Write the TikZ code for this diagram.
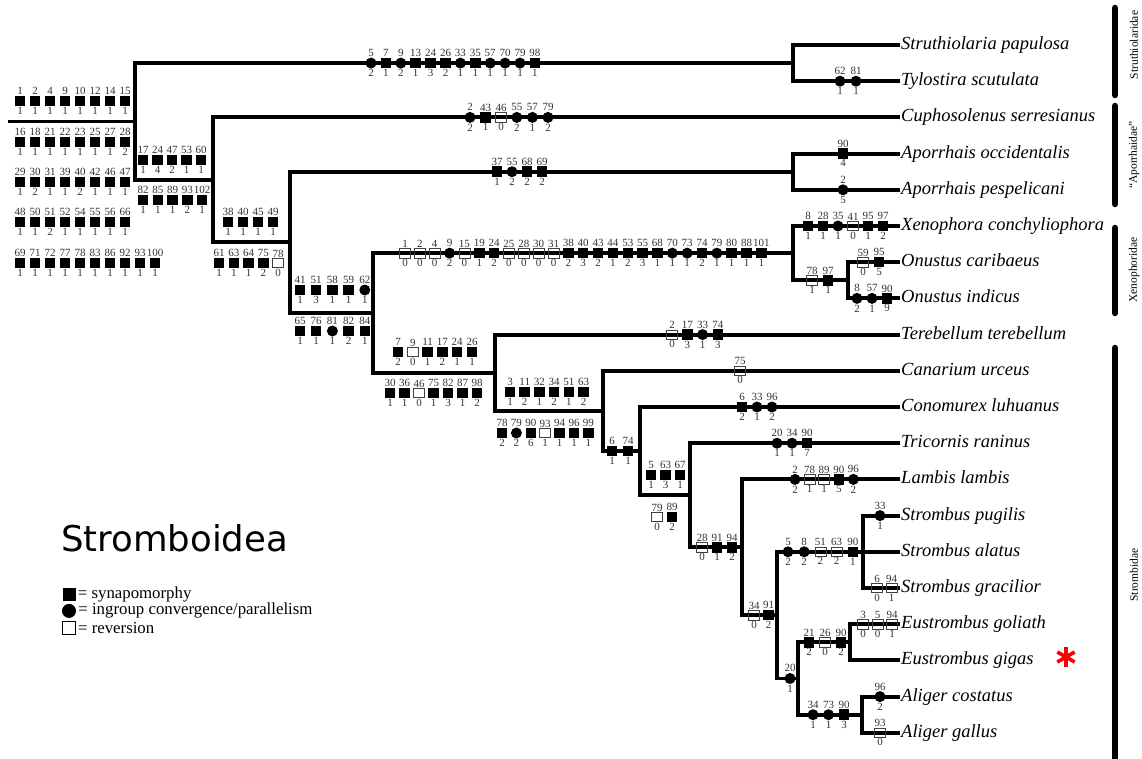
\documentclass[tikz,border=0pt]{standalone}
\usepackage{fontspec}
\setmainfont{Liberation Serif}
\newfontfamily\titleFont{DejaVu Sans}
\usetikzlibrary{positioning}
\newcommand{\branchWidth}[0]{3.9pt}
\newcommand{\tipX}[0]{900}
\newcommand{\charRow}[5]{%
  \foreach \kind/\num/\st [count=\k from 0] in {#5}{%
    \node[\kind, label={[charLbl]above:\num}, label={[charLbl]below:\st}]
      (#1-\k) at ({#2+#4*\k},#3) {};
  }%
}

\begin{document}
\begin{tikzpicture}[x=1pt, y=-1pt]
  \tikzset{
    branch/.style={line width=\branchWidth, line join=miter},
    syn/.style={rectangle, fill=black, minimum size=10.5pt, inner sep=0pt, label distance=2pt},
    conv/.style={circle, fill=black, minimum size=11pt, inner sep=0pt, label distance=2pt},
    rev/.style={rectangle, draw=black!75, line width=0.7pt, minimum width=11pt, minimum height=9.5pt, inner sep=0pt, label distance=2pt},
    charLbl/.style={font=\fontsize{11}{11}\selectfont, text=black!80, inner sep=0.5pt},
    taxon/.style={anchor=west, inner sep=1pt, text height=13pt, text depth=4pt, font=\fontsize{18.5}{20}\selectfont\itshape},
    cladeBar/.style={line width=6.5pt, line cap=round},
    cladeName/.style={rotate=90, inner sep=0pt, font=\fontsize{11.5}{12}\selectfont},
    legendTxt/.style={anchor=west, inner sep=0pt, font=\fontsize{16.8}{17}\selectfont}
  }
  \useasboundingbox (0,0) rectangle (1142,759);

  % internal nodes
  \coordinate (base) at (10,121.5);
  \coordinate (root) at (135,121.5);
  \coordinate (nStr) at (793,63.1);
  \coordinate (nC2) at (213,179.9);
  \coordinate (nA2) at (290,242.3);
  \coordinate (nApo) at (793,171.7);
  \coordinate (nX2) at (373,313);
  \coordinate (nXen) at (793,253.15);
  \coordinate (nOnu) at (848,280.3);
  \coordinate (nTer) at (495,372.8);
  \coordinate (nCan) at (603,411);
  \coordinate (nCon) at (640,451.1);
  \coordinate (nTri) at (690,495.3);
  \coordinate (nLam) at (742,547.3);
  \coordinate (nSE) at (777,615.2);
  \coordinate (nStb) at (863,551.8);
  \coordinate (nEA) at (798,678.5);
  \coordinate (nEus) at (850,642.3);
  \coordinate (nAli) at (862,714.7);

  % taxa
  \node[taxon] (papulosa) at (\tipX,45) {Struthiolaria papulosa};
  \node[taxon] (scutulata) at (\tipX,81.2) {Tylostira scutulata};
  \node[taxon] (serresianus) at (\tipX,117.4) {Cuphosolenus serresianus};
  \node[taxon] (occidentalis) at (\tipX,153.6) {Aporrhais occidentalis};
  \node[taxon] (pespelicani) at (\tipX,189.8) {Aporrhais pespelicani};
  \node[taxon] (conchyliophora) at (\tipX,226) {Xenophora conchyliophora};
  \node[taxon] (caribaeus) at (\tipX,262.2) {Onustus caribaeus};
  \node[taxon] (indicus) at (\tipX,298.4) {Onustus indicus};
  \node[taxon] (terebellum) at (\tipX,334.6) {Terebellum terebellum};
  \node[taxon] (urceus) at (\tipX,370.8) {Canarium urceus};
  \node[taxon] (luhuanus) at (\tipX,407) {Conomurex luhuanus};
  \node[taxon] (raninus) at (\tipX,443.2) {Tricornis raninus};
  \node[taxon] (lambis) at (\tipX,479.4) {Lambis lambis};
  \node[taxon] (pugilis) at (\tipX,515.6) {Strombus pugilis};
  \node[taxon] (alatus) at (\tipX,551.8) {Strombus alatus};
  \node[taxon] (gracilior) at (\tipX,588) {Strombus gracilior};
  \node[taxon] (goliath) at (\tipX,624.2) {Eustrombus goliath};
  \node[taxon] (gigas) at (\tipX,660.4) {Eustrombus gigas};
  \node[taxon] (costatus) at (\tipX,696.6) {Aliger costatus};
  \node[taxon] (gallus) at (\tipX,732.8) {Aliger gallus};

  % branches
  \draw[branch, line cap=rect] (base) -- (root);
  \draw[branch] (root) |- (nStr);
  \draw[branch] (root) |- (nC2);
  \draw[branch] (nStr) |- (papulosa.west);
  \draw[branch] (nStr) |- (scutulata.west);
  \draw[branch] (nC2) |- (serresianus.west);
  \draw[branch] (nC2) |- (nA2);
  \draw[branch] (nA2) |- (nApo);
  \draw[branch] (nA2) |- (nX2);
  \draw[branch] (nApo) |- (occidentalis.west);
  \draw[branch] (nApo) |- (pespelicani.west);
  \draw[branch] (nX2) |- (nXen);
  \draw[branch] (nX2) |- (nTer);
  \draw[branch] (nXen) |- (conchyliophora.west);
  \draw[branch] (nXen) |- (nOnu);
  \draw[branch] (nOnu) |- (caribaeus.west);
  \draw[branch] (nOnu) |- (indicus.west);
  \draw[branch] (nTer) |- (terebellum.west);
  \draw[branch] (nTer) |- (nCan);
  \draw[branch] (nCan) |- (urceus.west);
  \draw[branch] (nCan) |- (nCon);
  \draw[branch] (nCon) |- (luhuanus.west);
  \draw[branch] (nCon) |- (nTri);
  \draw[branch] (nTri) |- (raninus.west);
  \draw[branch] (nTri) |- (nLam);
  \draw[branch] (nLam) |- (lambis.west);
  \draw[branch] (nLam) |- (nSE);
  \draw[branch] (nSE) |- (nStb);
  \draw[branch] (nSE) |- (nEA);
  \draw[branch] (nStb) |- (pugilis.west);
  \draw[branch] (nStb) -- (alatus.west);
  \draw[branch] (nStb) |- (gracilior.west);
  \draw[branch] (nEA) |- (nEus);
  \draw[branch] (nEA) |- (nAli);
  \draw[branch] (nEus) |- (goliath.west);
  \draw[branch] (nEus) |- (gigas.west);
  \draw[branch] (nAli) |- (costatus.west);
  \draw[branch] (nAli) |- (gallus.west);

  % characters
  \charRow{r1}{20}{101}{15}{syn/1/1,syn/2/1,syn/4/1,syn/9/1,syn/10/1,syn/12/1,syn/14/1,syn/15/1}
  \charRow{r2}{20}{142}{15}{syn/16/1,syn/18/1,syn/21/1,syn/22/1,syn/23/1,syn/25/1,syn/27/1,syn/28/2}
  \charRow{r3}{20}{182}{15}{syn/29/1,syn/30/2,syn/31/1,syn/39/1,syn/40/2,syn/42/1,syn/46/1,syn/47/1}
  \charRow{r4}{20}{222}{15}{syn/48/1,syn/50/1,syn/51/2,syn/52/1,syn/54/1,syn/55/1,syn/56/1,syn/66/1}
  \charRow{r5}{20}{263}{15}{syn/69/1,syn/71/1,syn/72/1,syn/77/1,syn/78/1,syn/83/1,syn/86/1,syn/92/1,syn/93/1,syn/100/1}
  \charRow{b2a}{143}{160}{14.5}{syn/17/1,syn/24/4,syn/47/2,syn/53/1,syn/60/1}
  \charRow{b2b}{143}{200}{14.8}{syn/82/1,syn/85/1,syn/89/1,syn/93/2,syn/102/1}
  \charRow{b3a}{228}{222}{15}{syn/38/1,syn/40/1,syn/45/1,syn/49/1}
  \charRow{b3b}{219}{263}{14.8}{syn/61/1,syn/63/1,syn/64/1,syn/75/2,rev/78/0}
  \charRow{b4a}{300}{290}{16.2}{syn/41/1,syn/51/3,syn/58/1,syn/59/1,conv/62/1}
  \charRow{b4b}{300}{331}{16.2}{syn/65/1,syn/76/1,conv/81/1,syn/82/2,syn/84/1}
  \charRow{b5a}{398}{352}{14.8}{syn/7/2,rev/9/0,syn/11/1,syn/17/2,syn/24/1,syn/26/1}
  \charRow{b5b}{390}{393}{14.5}{syn/30/1,syn/36/1,rev/46/0,syn/75/1,syn/82/3,syn/87/1,syn/98/2}
  \charRow{b6a}{510}{392}{14.7}{syn/3/1,syn/11/2,syn/32/1,syn/34/2,syn/51/1,syn/63/2}
  \charRow{b6b}{502}{433}{14.4}{syn/78/2,conv/79/2,syn/90/6,rev/93/1,syn/94/1,syn/96/1,syn/99/1}
  \charRow{b7}{612}{451.1}{16}{syn/6/1,syn/74/1}
  \charRow{b8a}{651}{475}{14.5}{syn/5/1,syn/63/3,syn/67/1}
  \charRow{b8b}{657}{517}{15}{rev/79/0,syn/89/2}
  \charRow{b9}{702}{547.3}{15}{rev/28/0,syn/91/1,syn/94/2}
  \charRow{b10}{754}{615.2}{14.5}{rev/34/0,syn/91/2}
  \charRow{b11}{790}{678.5}{15}{conv/20/1}
  \charRow{stb}{788}{551.8}{16.2}{conv/5/2,conv/8/2,rev/51/2,rev/63/2,syn/90/1}
  \charRow{eus}{809}{642.3}{16}{syn/21/2,rev/26/0,syn/90/2}
  \charRow{ali}{813}{714.7}{15.5}{conv/34/1,conv/73/1,syn/90/3}
  \charRow{str}{371}{63.1}{14.9}{conv/5/2,syn/7/1,conv/9/2,syn/13/1,syn/24/3,syn/26/2,conv/33/1,syn/35/1,conv/57/1,conv/70/1,conv/79/1,syn/98/1}
  \charRow{scu}{840}{81.2}{16}{conv/62/1,conv/81/1}
  \charRow{cup}{470}{117.4}{15.6}{conv/2/2,syn/43/1,rev/46/0,conv/55/2,conv/57/1,conv/79/2}
  \charRow{apo}{497}{171.7}{15}{syn/37/1,conv/55/2,syn/68/2,syn/69/2}
  \charRow{occ}{843}{153.6}{15}{syn/90/4}
  \charRow{pes}{843}{189.8}{15}{conv/2/5}
  \charRow{xen}{405}{253.15}{14.85}{rev/1/0,rev/2/0,rev/4/0,conv/9/2,rev/15/0,syn/19/1,syn/24/2,rev/25/0,rev/28/0,rev/30/0,rev/31/0,syn/38/2,syn/40/3,syn/43/2,syn/44/1,syn/53/2,syn/55/3,syn/68/1,conv/70/1,conv/73/1,syn/74/2,conv/79/1,syn/80/1,syn/88/1,syn/101/1}
  \charRow{con}{808}{226}{15}{syn/8/1,syn/28/1,conv/35/1,rev/41/0,syn/95/1,syn/97/2}
  \charRow{onu}{812}{280.3}{16}{rev/78/1,syn/97/1}
  \charRow{car}{863}{262.2}{16}{rev/59/0,syn/95/5}
  \charRow{ind}{857}{298.4}{15}{conv/8/2,conv/57/1,syn/90/9}
  \charRow{ter}{672}{334.6}{15.3}{rev/2/0,syn/17/3,conv/33/1,syn/74/3}
  \charRow{urc}{740}{370.8}{15}{rev/75/0}
  \charRow{luh}{742}{407}{15}{syn/6/2,conv/33/1,conv/96/2}
  \charRow{ran}{777}{443.2}{15}{conv/20/1,conv/34/1,syn/90/7}
  \charRow{lam}{795}{479.4}{14.6}{conv/2/2,rev/78/1,rev/89/1,syn/90/5,conv/96/2}
  \charRow{pug}{880}{515.6}{15}{conv/33/1}
  \charRow{gra}{877}{588}{14.5}{rev/6/0,rev/94/1}
  \charRow{gol}{863}{624.2}{14.5}{rev/3/0,rev/5/0,rev/94/1}
  \charRow{cos}{880}{696.6}{15}{conv/96/2}
  \charRow{gal}{880}{732.8}{15}{rev/93/0}

  % clades
  \draw[cladeBar] (1115,8) -- (1115,95);
  \node[cladeName] (struthiolaridae) at (1134,45) {Struthiolaridae};
  \draw[cladeBar] (1115,106) -- (1115,204);
  \node[cladeName] (aporrhaidae) at (1134,155) {“Aporrhaidae”};
  \draw[cladeBar] (1115,228) -- (1115,313);
  \node[cladeName] (xenophoridae) at (1134,270) {Xenophoridae};
  \draw[cladeBar] (1115,348) -- (1115,762);
  \node[cladeName] (strombidae) at (1134,575) {Strombidae};

  % star for E. gigas
  \coordinate (star) at (1066,657);
  \foreach \a in {90,30,150}
    \draw[red, line width=3.6pt] (star) ++(\a:10) -- ++(\a+180:20);

  % legend
  \node[anchor=west, inner sep=0pt, font=\titleFont\fontsize{35.5}{36}\selectfont] (title) at (61,538) {Stromboidea};
  \node[syn, minimum size=13pt] (legSyn) at (69,594) {};
  \node[legendTxt, right=2pt of legSyn] (legSynTxt) {= synapomorphy};
  \node[conv, minimum size=14pt, below=3pt of legSyn] (legConv) {};
  \node[legendTxt, right=2pt of legConv] (legConvTxt) {= ingroup convergence/parallelism};
  \node[rev, minimum size=13pt, draw=black, line width=0.8pt, below=3pt of legConv] (legRev) {};
  \node[legendTxt, right=2pt of legRev] (legRevTxt) {= reversion};
\end{tikzpicture}
\end{document}
